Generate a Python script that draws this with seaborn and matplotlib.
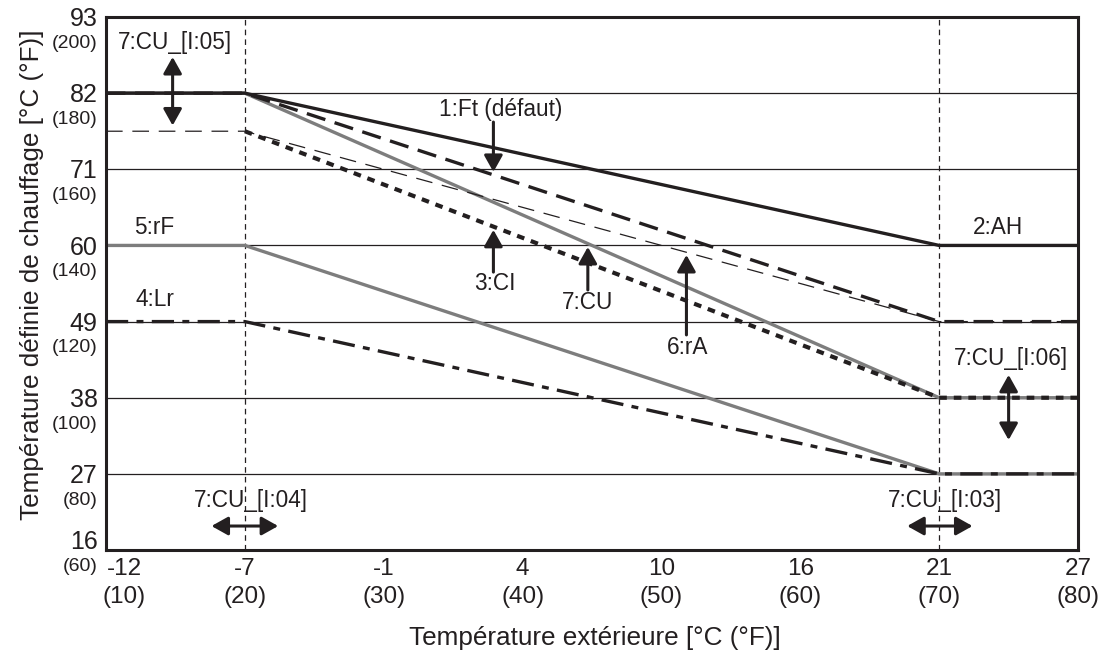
import numpy as np
import pandas as pd
import matplotlib
matplotlib.use("Agg")
import matplotlib.pyplot as plt
import seaborn as sns

# axis ticks: Celsius labels with Fahrenheit in brackets (plot runs in °F)
x_ticks_c = ["-12", "-7", "-1", "4", "10", "16", "21", "27"]
x_ticks_f = [10, 20, 30, 40, 50, 60, 70, 80]
y_ticks_c = ["16", "27", "38", "49", "60", "71", "82", "93"]
y_ticks_f = [60, 80, 100, 120, 140, 160, 180, 200]

# heating curves, outdoor temperature in °F
outdoor_f = [10, 20, 70, 80]
curve_ah = [180, 180, 140, 140]        # 2:AH
curve_ft = [180, 180, 120, 120]        # 1:Ft (défaut)
curve_ra = [170, 170, 120, 120]        # 6:rA
curve_cl = [np.nan, 170, 100, 100]     # 3:CI
curve_cu = [180, 180, 100, 100]        # 7:CU
curve_rf = [140, 140, 80, 80]          # 5:rF
curve_lr = [120, 120, 80, 80]          # 4:Lr

sns.set_theme(style="white")
plt.rcParams["font.family"] = ["Liberation Sans", "DejaVu Sans"]
plt.rcParams["lines.scale_dashes"] = False

ink = "#231f20"
grey = "#7d7d7d"

fig = plt.figure(figsize=(11.13, 6.54), dpi=100)
ax = fig.add_axes([0.0952, 0.159, 0.8734, 0.815])

# grid
for yv in y_ticks_f[1:-1]:
    ax.axhline(yv, color=ink, lw=0.9, zorder=1)
for xv in [20, 70]:
    ax.axvline(xv, color=ink, lw=0.9, linestyle=(0, (4, 3)), zorder=1)

def draw(vals, **kw):
    df = pd.DataFrame({"x": outdoor_f, "y": vals}).dropna()
    sns.lineplot(data=df, x="x", y="y", ax=ax, errorbar=None, sort=False, **kw)

draw(curve_cu, color=grey, lw=2.4, zorder=2)
draw(curve_rf, color=grey, lw=2.4, zorder=2)
draw(curve_ah, color=ink, lw=2.4, zorder=3)
draw(curve_ft, color=ink, lw=2.4, linestyle=(0, (14, 7)), zorder=3)
draw(curve_ra, color=ink, lw=0.9, linestyle=(0, (12, 7)), zorder=3)
draw(curve_cl, color=ink, lw=3.0, linestyle=(0, (5.5, 5)), zorder=3)
draw(curve_lr, color=ink, lw=2.4, linestyle=(0, (16, 6, 5, 6)), zorder=3)

ax.set_xlim(10, 80)
ax.set_ylim(60, 200)
ax.set_xticks(x_ticks_f)
ax.set_yticks(y_ticks_f)
ax.set_xticklabels([])
ax.set_yticklabels([])
ax.set_xlabel("")
ax.set_ylabel("")
ax.tick_params(axis="x", direction="in", length=6, width=1.2, color=ink)
ax.tick_params(axis="y", length=0)
for s in ax.spines.values():
    s.set_linewidth(2.2)
    s.set_color(ink)

# tick labels
for i, (c, f) in enumerate(zip(x_ticks_c, x_ticks_f)):
    dx = 13 if i == 0 else 0
    ax.annotate(c, xy=(f, 0), xycoords=("data", "axes fraction"),
                xytext=(dx, -13.5), textcoords="offset points",
                ha="center", va="center", fontsize=17.5, color=ink)
    ax.annotate(f"({f})", xy=(f, 0), xycoords=("data", "axes fraction"),
                xytext=(dx, -34), textcoords="offset points",
                ha="center", va="center", fontsize=17.5, color=ink)
for i, (c, f) in enumerate(zip(y_ticks_c, y_ticks_f)):
    dy = 7 if i == 0 else 0
    ax.annotate(c, xy=(0, f), xycoords=("axes fraction", "data"),
                xytext=(-6, dy - 1.5), textcoords="offset points",
                ha="right", va="center", fontsize=18, color=ink)
    ax.annotate(f"({f})", xy=(0, f), xycoords=("axes fraction", "data"),
                xytext=(-6, dy - 19), textcoords="offset points",
                ha="right", va="center", fontsize=14, color=ink)

fig.text(595 / 1113, 1 - 638 / 654, "Température extérieure [°C (°F)]",
         ha="center", va="center", fontsize=18.8, color=ink)
fig.text(32 / 1113, 1 - 275 / 654, "Température définie de chauffage [°C (°F)]",
         ha="center", va="center", rotation=90, fontsize=18.8, color=ink)

# annotations
labels = [
    ("7:CU_[I:05]", 15.0, 193.4), ("1:Ft (défaut)", 38.4, 175.6),
    ("2:AH", 74.2, 144.8), ("5:rF", 13.5, 144.6), ("4:Lr", 13.5, 125.7),
    ("3:CI", 38.0, 130.1), ("7:CU", 44.7, 125.1), ("6:rA", 51.9, 113.3),
    ("7:CU_[I:06]", 75.2, 110.4), ("7:CU_[I:04]", 20.4, 73.1),
    ("7:CU_[I:03]", 70.4, 73.1),
]
for txt, x, y in labels:
    ax.text(x, y, txt, ha="center", va="center", fontsize=16.3, color=ink, zorder=5)

head = "-|>,head_length=0.5,head_width=0.28"
both = "<|-|>,head_length=0.5,head_width=0.28"
arrows = [
    (both, (14.8, 189.5), (14.8, 171.5)),
    (head, (37.9, 172.4), (37.9, 159.3)),
    (head, (37.9, 133.0), (37.9, 144.1)),
    (head, (44.7, 128.3), (44.7, 139.6)),
    (head, (51.8, 116.5), (51.8, 137.5)),
    (both, (75.0, 106.0), (75.0, 88.9)),
    (both, (17.6, 66.3), (22.4, 66.3)),
    (both, (67.7, 66.3), (72.4, 66.3)),
]
for style, start, end in arrows:
    ax.annotate("", xy=end, xytext=start,
                arrowprops=dict(arrowstyle=style, color=ink, lw=2.2,
                                mutation_scale=20, shrinkA=0, shrinkB=0),
                zorder=5)

fig.savefig("out.png", dpi=100)
